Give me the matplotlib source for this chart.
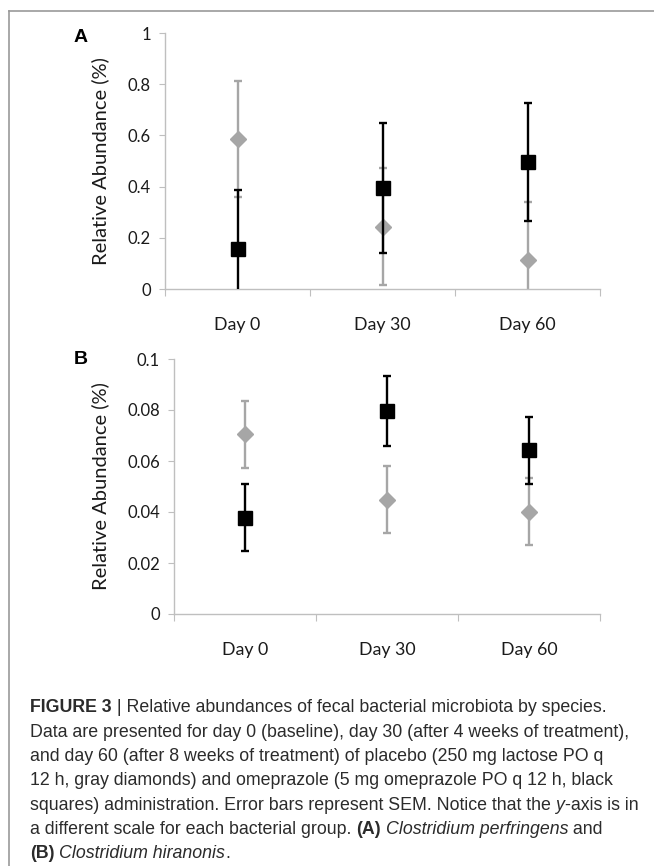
import matplotlib
matplotlib.use("Agg")
import matplotlib.pyplot as plt
from matplotlib.lines import Line2D
from matplotlib import font_manager

# data
days = ["Day 0", "Day 30", "Day 60"]

# (A) Clostridium perfringens
a_placebo = [0.585, 0.243, 0.112]
a_placebo_sem = [0.227, 0.228, 0.229]
a_omep = [0.158, 0.396, 0.495]
a_omep_sem = [0.228, 0.254, 0.230]

# (B) Clostridium hiranonis
b_placebo = [0.0704, 0.0449, 0.0401]
b_placebo_sem = [0.0133, 0.0130, 0.0131]
b_omep = [0.0377, 0.0796, 0.0642]
b_omep_sem = [0.0131, 0.0139, 0.0132]

a_ticks = [0, 0.2, 0.4, 0.6, 0.8, 1]
a_ticklabels = ["0", "0.2", "0.4", "0.6", "0.8", "1"]
b_ticks = [0, 0.02, 0.04, 0.06, 0.08, 0.1]
b_ticklabels = ["0", "0.02", "0.04", "0.06", "0.08", "0.1"]

names = {f.name for f in font_manager.fontManager.ttflist}
chart_font = "Lato" if "Lato" in names else "DejaVu Sans"
cap_font = "Liberation Sans"

W, H = 654, 866
fig = plt.figure(figsize=(W / 100, H / 100), dpi=100)

GRAY = "#a6a6a6"
AXC = "#bfbfbf"
TXT = "#1a1a1a"


def px_axes(l, t, r, b):
    return fig.add_axes([l / W, 1 - b / H, (r - l) / W, (b - t) / H])


def panel(ax, pl, pl_sem, om, om_sem, ticks, ticklabels, ymax, lab_x):
    x = range(len(days))
    ax.errorbar(x, pl, yerr=pl_sem, fmt="D", color=GRAY, ms=8.5, capsize=3,
                capthick=1.7, elinewidth=1.7, zorder=2)
    ax.errorbar(x, om, yerr=om_sem, fmt="s", color="black", ms=10, capsize=3,
                capthick=1.7, elinewidth=1.7, zorder=3)
    ax.set_xlim(-0.5, 2.5)
    ax.set_ylim(0, ymax)
    for s in ["top", "right"]:
        ax.spines[s].set_visible(False)
    for s in ["left", "bottom"]:
        ax.spines[s].set_color(AXC)
        ax.spines[s].set_linewidth(1.0)
    ax.set_yticks(ticks)
    ax.set_yticklabels(ticklabels, fontsize=12, family=chart_font, color=TXT)
    ax.tick_params(axis="y", length=4, color=AXC, pad=6)
    ax.set_xticks([-0.5, 0.5, 1.5, 2.5])
    ax.set_xticklabels([])
    ax.tick_params(axis="x", which="major", length=5, color=AXC)
    ax.set_xticks([0, 1, 2], minor=True)
    ax.set_xticklabels(days, minor=True, fontsize=12.8, family=chart_font, color=TXT)
    ax.tick_params(axis="x", which="minor", length=0, pad=20)
    ax.set_ylabel("Relative Abundance (%)", fontsize=14.5, family=chart_font, color=TXT)
    ax.yaxis.set_label_coords(lab_x, 0.5)


ax1 = px_axes(165, 33, 600, 289)
panel(ax1, a_placebo, a_placebo_sem, a_omep, a_omep_sem, a_ticks, a_ticklabels, 1.0, -0.129)
ax2 = px_axes(174, 359, 600, 614)
panel(ax2, b_placebo, b_placebo_sem, b_omep, b_omep_sem, b_ticks, b_ticklabels, 0.1, -0.153)

fig.text(81 / W, 1 - 37 / H, "A", fontsize=14, fontweight="bold", ha="center", va="center",
         family="Liberation Sans")
fig.text(81 / W, 1 - 360 / H, "B", fontsize=14, fontweight="bold", ha="center", va="center",
         family="Liberation Sans")

# frame (top and left edges)
fig.add_artist(Line2D([9 / W, 1], [1 - 11 / H, 1 - 11 / H], color="#999999", lw=1.2,
                      transform=fig.transFigure))
fig.add_artist(Line2D([9 / W, 9 / W], [0, 1 - 11 / H], color="#999999", lw=1.2,
                      transform=fig.transFigure))

# caption, written run by run
caption = [
    [("FIGURE 3", "bold", "normal"), (" | Relative abundances of fecal bacterial microbiota by species.", "normal", "normal")],
    [("Data are presented for day 0 (baseline), day 30 (after 4 weeks of treatment),", "normal", "normal")],
    [("and day 60 (after 8 weeks of treatment) of placebo (250 mg lactose PO q", "normal", "normal")],
    [("12 h, gray diamonds) and omeprazole (5 mg omeprazole PO q 12 h, black", "normal", "normal")],
    [("squares) administration. Error bars represent SEM. Notice that the ", "normal", "normal"),
     ("y", "normal", "italic"), ("-axis is in", "normal", "normal")],
    [("a different scale for each bacterial group. ", "normal", "normal"), ("(A)", "bold", "normal"),
     (" ", "normal", "normal"), ("Clostridium perfringens", "normal", "italic"), (" and", "normal", "normal")],
    [("(B)", "bold", "normal"), (" ", "normal", "normal"), ("Clostridium hiranonis", "normal", "italic"),
     (".", "normal", "normal")],
]
renderer = fig.canvas.get_renderer()
y0 = 708
for i, line in enumerate(caption):
    xpix = 30
    ypix = y0 + i * 24.3
    for txt, wt, st in line:
        t = fig.text(xpix / W, 1 - ypix / H, txt, fontsize=12.8, fontweight=wt, fontstyle=st,
                     family=cap_font, color="#2b2b2b", va="center", ha="left")
        bb = t.get_window_extent(renderer=renderer)
        xpix += bb.width

fig.savefig("out.png", dpi=100)
